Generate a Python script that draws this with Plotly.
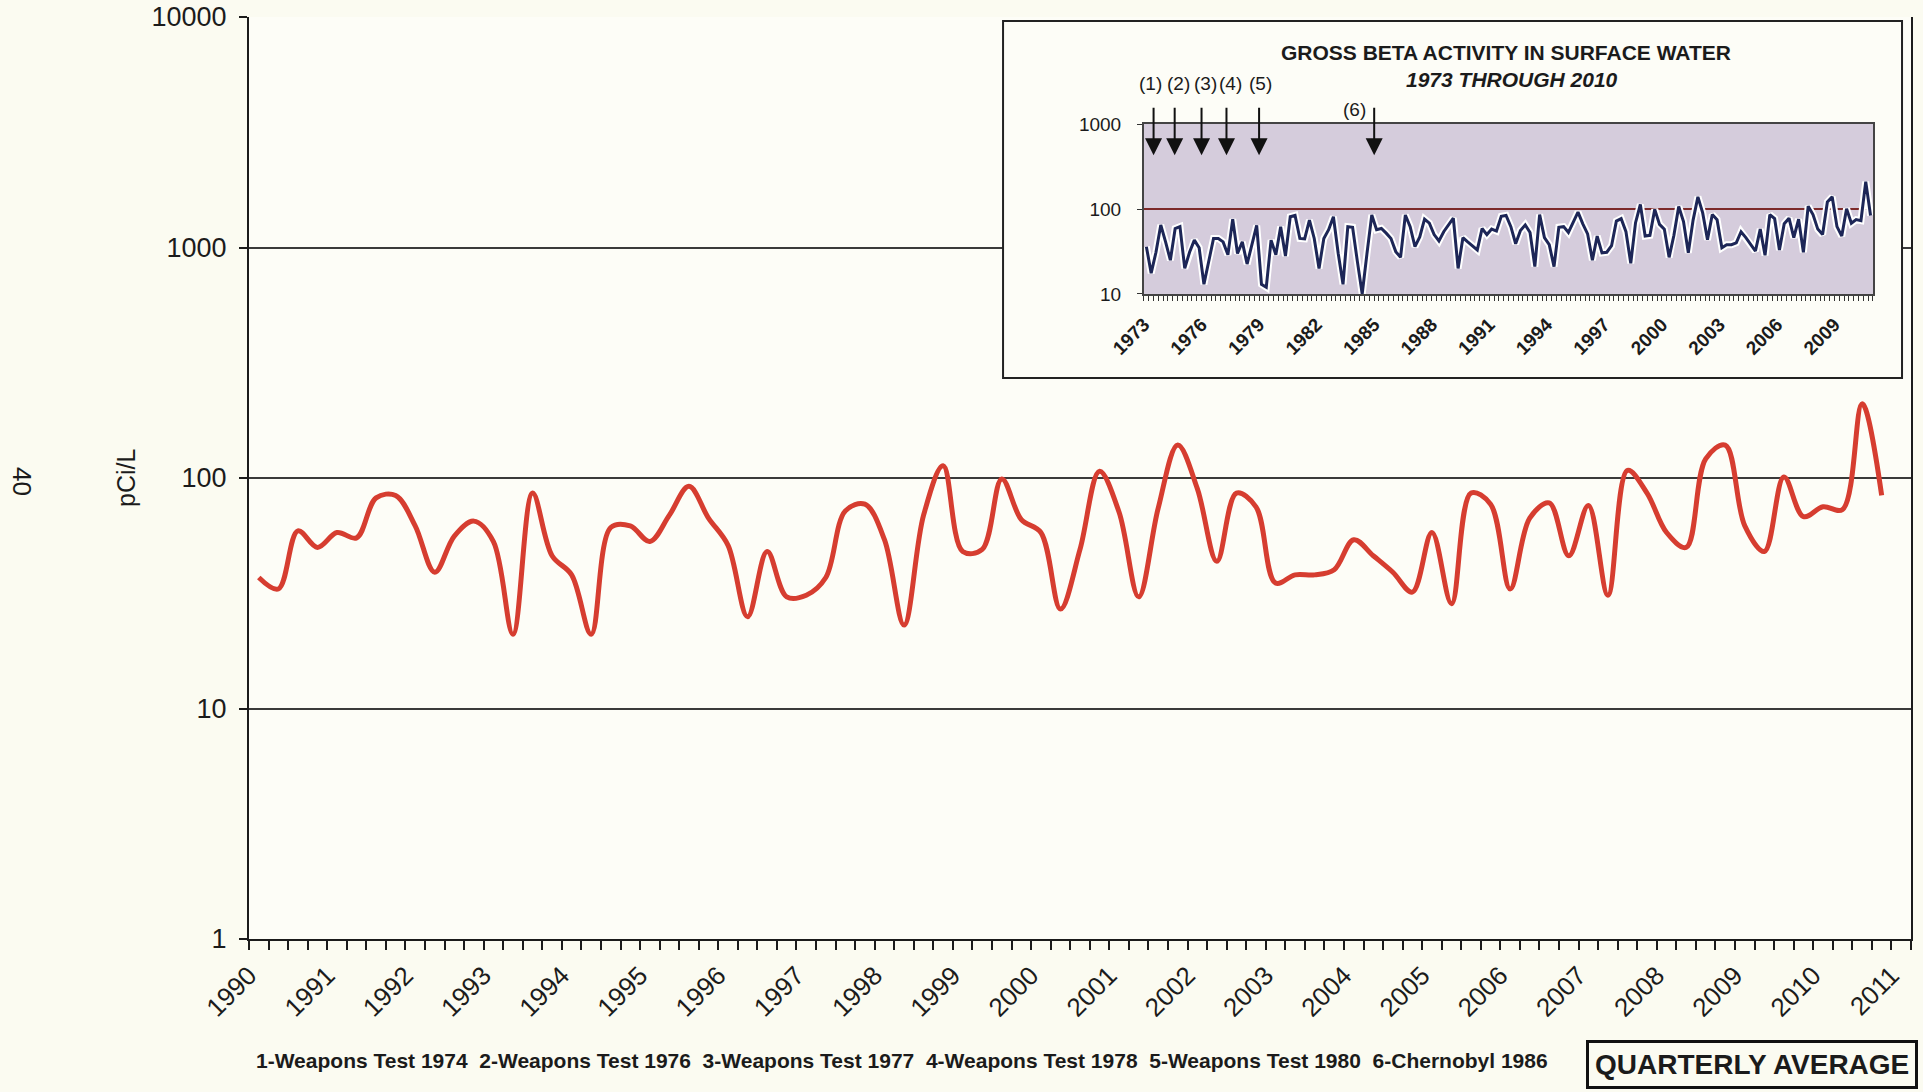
import math
import plotly.graph_objects as go

# ---------------- data ----------------
main_years = list(range(1990, 2011))
main_quarterly = [
    37, 33, 59, 50,
    58, 55, 82, 84,
    62, 39, 56, 65,
    53, 21, 86, 46,
    38, 21, 61, 62,
    53, 69, 92, 67,
    51, 25, 48, 30.5,
    31, 37, 72, 77,
    54, 23, 69, 113,
    48, 49, 99, 66,
    58, 27, 49, 107,
    71, 30.5, 74, 139,
    90, 43.5, 86, 75,
    35, 38, 38, 40,
    54, 46, 39, 32,
    58, 28.5, 86, 77,
    33, 67, 78, 46,
    76, 31, 108, 86,
    58, 50, 121, 139,
    62, 48, 101, 68,
    75, 73, 210, 84,
]
main_tick_years = list(range(1990, 2012))
main_y_ticks = [1, 10, 100, 1000, 10000]

inset_early_years = list(range(1973, 1990))
inset_early_quarterly = [
    36, 17.6, 31, 65,
    41, 25, 59, 62,
    20, 31, 43, 35,
    13, 25, 45, 45,
    41, 29, 76, 30,
    41, 22.5, 38, 64,
    13, 12, 43, 29,
    62, 28, 81, 84,
    45, 44.5, 74, 45,
    20, 45, 57, 81,
    30, 13, 62, 61,
    24, 10, 30, 85,
    57, 59, 52, 45,
    31.5, 27, 85, 62,
    36, 47, 76, 68,
    50, 42, 54, 65,
    78, 20, 46, 41,
]
inset_tick_years = list(range(1973, 2010, 3))
inset_y_ticks = [10, 100, 1000]

event_labels = ["(1)", "(2)", "(3)", "(4)", "(5)", "(6)"]
event_arrow_x = [1973.5, 1974.6, 1976.0, 1977.3, 1979.0, 1985.0]

footnote = ("1-Weapons Test 1974 &nbsp;2-Weapons Test 1976 &nbsp;3-Weapons Test 1977 "
            "&nbsp;4-Weapons Test 1978 &nbsp;5-Weapons Test 1980 &nbsp;6-Chernobyl 1986")

# x positions at the middle of each quarter
x_main = [y + (q + 0.5) / 4 for y in main_years for q in range(4)]
inset_years = inset_early_years + main_years
inset_vals = inset_early_quarterly + main_quarterly
x_inset = [y + (q + 0.5) / 4 for y in inset_years for q in range(4)]

FONT = "Liberation Sans, Arial, sans-serif"
INK = "#1b1b1b"

fig = go.Figure()
fig.add_trace(go.Scatter(
    x=x_main, y=main_quarterly, mode="lines", xaxis="x", yaxis="y",
    line=dict(color="#d63d30", width=5, shape="spline", smoothing=1.0),
    hoverinfo="skip", showlegend=False))
# empty subplot used as the white inset frame
fig.add_trace(go.Scatter(x=[None], y=[None], xaxis="x2", yaxis="y2",
                         showlegend=False, hoverinfo="skip"))
fig.add_trace(go.Scatter(
    x=x_inset, y=inset_vals, mode="lines", xaxis="x3", yaxis="y3",
    line=dict(color="white", width=7), hoverinfo="skip", showlegend=False))
fig.add_trace(go.Scatter(
    x=x_inset, y=inset_vals, mode="lines", xaxis="x3", yaxis="y3",
    line=dict(color="#1d2657", width=3), hoverinfo="skip", showlegend=False))

fig.update_layout(
    width=1923, height=1092,
    margin=dict(l=249, r=12, t=17, b=153, autoexpand=False),
    paper_bgcolor="#fbfbf1", plot_bgcolor="#fdfdf7",
    showlegend=False,
    xaxis=dict(
        domain=[0, 1], range=[1990, 2011.25], automargin=False,
        tickmode="array", tickvals=main_tick_years,
        ticktext=[str(y) for y in main_tick_years],
        tickangle=-45, ticks="outside", ticklen=9, tickwidth=1.5, tickcolor=INK,
        showline=True, linecolor=INK, linewidth=2, showgrid=False, zeroline=False,
        tickfont=dict(family=FONT, size=26, color=INK),
        minor=dict(dtick=0.25, tick0=1990, ticks="outside", ticklen=9,
                   tickwidth=1.5, tickcolor=INK, showgrid=False),
    ),
    yaxis=dict(
        type="log", range=[0, 4], automargin=False, tickmode="array",
        tickvals=main_y_ticks, ticktext=[str(v) for v in main_y_ticks],
        ticks="outside", ticklen=8, tickwidth=1.5, tickcolor=INK, ticklabelstandoff=7,
        showline=True, linecolor=INK, linewidth=2, mirror=True,
        showgrid=True, gridcolor="#3a3a3a", gridwidth=1.6, zeroline=False,
        tickfont=dict(family=FONT, size=27, color=INK),
    ),
    xaxis2=dict(domain=[0.4537, 0.9946], anchor="y2", range=[0, 1], visible=False,
                automargin=False),
    yaxis2=dict(domain=[0.6085, 0.9957], anchor="x2", range=[0, 1], visible=False,
                automargin=False),
    xaxis3=dict(
        domain=[0.5385, 0.9771], anchor="y3", range=[1973, 2011], automargin=False,
        tickmode="array", tickvals=inset_tick_years,
        ticktext=[str(y) for y in inset_tick_years], tickangle=-45,
        ticks="outside", ticklen=5, tickwidth=1.2, tickcolor="#333", ticklabelstandoff=5,
        showline=True, linecolor="#444", linewidth=2, mirror=True,
        showgrid=False, zeroline=False,
        tickfont=dict(family=FONT, size=19, color=INK, weight="bold"),
        minor=dict(dtick=0.25, tick0=1973, ticks="outside", ticklen=5,
                   tickwidth=1, tickcolor="#333", showgrid=False),
    ),
    yaxis3=dict(
        domain=[0.6996, 0.8839], anchor="x3", type="log", range=[1, 3], automargin=False,
        tickmode="array", tickvals=inset_y_ticks,
        ticktext=[str(v) for v in inset_y_ticks],
        ticks="outside", ticklen=5, tickwidth=1.2, tickcolor="#333", ticklabelstandoff=12,
        showline=True, linecolor="#444", linewidth=2, mirror=True,
        showgrid=True, gridcolor="#7d2a2a", gridwidth=1.5, zeroline=False,
        tickfont=dict(family=FONT, size=19, color=INK),
    ),
)

shapes = [
    dict(type="rect", xref="x3", yref="y3", x0=1900, x1=2100, y0=1, y1=100000,
         fillcolor="#d5ccdc", line=dict(width=0), layer="below"),
    dict(type="rect", xref="paper", yref="paper", x0=0.4537, x1=0.9946,
         y0=0.6085, y1=0.9957, line=dict(color="#222", width=2),
         fillcolor="rgba(0,0,0,0)", layer="above"),
]
fig.update_layout(shapes=shapes)

ann = []
ann.append(dict(text="GROSS BETA ACTIVITY IN SURFACE WATER", xref="paper", yref="paper",
                x=0.7563, y=0.962, xanchor="center", yanchor="middle", showarrow=False,
                font=dict(family=FONT, size=21, color=INK, weight="bold")))
ann.append(dict(text="1973 THROUGH 2010", xref="paper", yref="paper",
                x=0.7599, y=0.9317, xanchor="center", yanchor="middle", showarrow=False,
                font=dict(family=FONT, size=21, color=INK, weight="bold", style="italic")))
head_y = math.log10(430)
label_shift = [-3, 4, 4, 4, 1]
for i, (lab, ex) in enumerate(zip(event_labels, event_arrow_x)):
    ann.append(dict(text="", x=ex, y=head_y, xref="x3", yref="y3",
                    showarrow=True, ax=0, ay=-49, arrowhead=2, arrowsize=1.7,
                    arrowwidth=2, arrowcolor="#111"))
    if i < 5:
        ann.append(dict(text=lab, x=ex, y=0.928, xref="x3", yref="paper", showarrow=False,
                        xanchor="center", yanchor="middle", xshift=label_shift[i],
                        font=dict(family=FONT, size=19, color=INK)))
    else:
        ann.append(dict(text=lab, x=ex, y=0.9, xref="x3", yref="paper", showarrow=False,
                        xanchor="right", yanchor="middle", xshift=-6,
                        font=dict(family=FONT, size=19, color=INK)))
ann.append(dict(text="pCi/L", xref="paper", yref="paper", x=-0.074, y=0.5,
                xanchor="center", yanchor="middle",
                textangle=-90, showarrow=False, font=dict(family=FONT, size=25, color=INK)))
ann.append(dict(text="40", xref="paper", yref="paper", x=-0.1366, y=0.4957,
                xanchor="center", yanchor="middle",
                textangle=90, showarrow=False, font=dict(family=FONT, size=26, color=INK)))
ann.append(dict(text=footnote, xref="paper", yref="paper", x=0.003, y=-0.1323,
                xanchor="left", yanchor="middle", showarrow=False,
                font=dict(family=FONT, size=21, color=INK, weight="bold")))
ann.append(dict(text="QUARTERLY AVERAGE", xref="paper", yref="paper", x=0.9043, y=-0.1356,
                xanchor="center", yanchor="middle", showarrow=False,
                bordercolor="#111", borderwidth=3, borderpad=6, bgcolor="rgba(0,0,0,0)",
                font=dict(family=FONT, size=28, color=INK, weight="bold")))
fig.update_layout(annotations=ann)

fig.write_html("out.html")
